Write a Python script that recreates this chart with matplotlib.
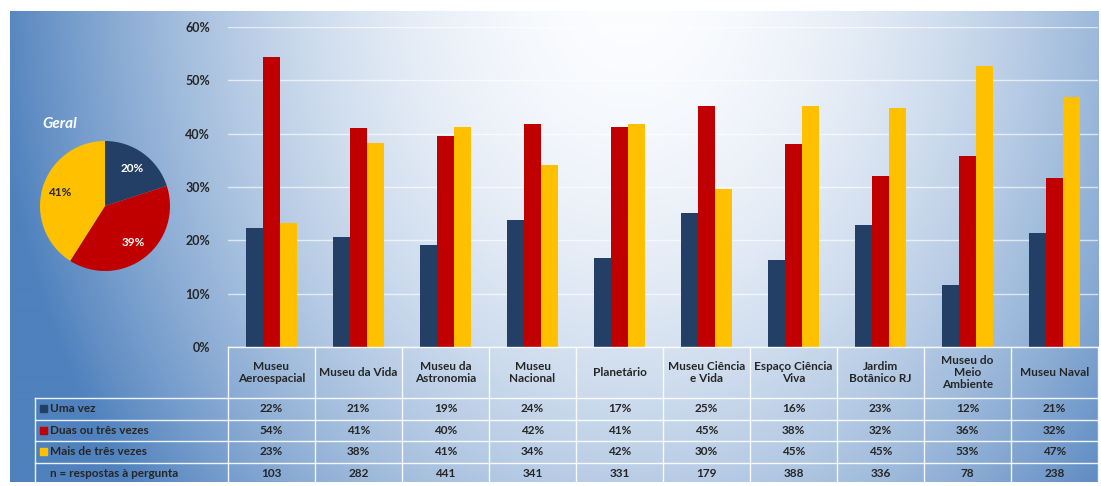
import numpy as np
import matplotlib
matplotlib.use("Agg")
import matplotlib.pyplot as plt
from matplotlib.patches import Rectangle

# --------------------------------------------------
#  Dados
# --------------------------------------------------
categorias = [
    "Museu\nAeroespacial", "Museu da Vida", "Museu da\nAstronomia", "Museu\nNacional",
    "Planetário", "Museu Ciência\ne Vida", "Espaço Ciência\nViva", "Jardim\nBotânico RJ",
    "Museu do\nMeio\nAmbiente", "Museu Naval",
]
uma_vez = [22.3, 20.6, 19.1, 23.8, 16.6, 25.1, 16.4, 22.9, 11.6, 21.4]
duas_tres = [54.4, 41.1, 39.6, 41.8, 41.3, 45.2, 38.1, 32.1, 35.8, 31.6]
mais_tres = [23.3, 38.3, 41.3, 34.1, 41.8, 29.6, 45.2, 44.8, 52.6, 46.9]
n_respostas = [103, 282, 441, 341, 331, 179, 388, 336, 78, 238]

series_nomes = ["Uma vez", "Duas ou três vezes", "Mais de três vezes"]
geral = [20, 39, 41]

CORES = ["#243f66", "#c00000", "#ffc000"]
TXT = "#262626"
FONTE = "Lato"

W, H = 1101, 486
fig = plt.figure(figsize=(W / 100, H / 100), dpi=100)
fig.patch.set_facecolor("white")

# --------------------------------------------------
#  Fundo em gradiente (painel azul)
# --------------------------------------------------
bg = fig.add_axes([0, 0, 1, 1], zorder=0)
bg.set_xlim(0, W)
bg.set_ylim(H, 0)
bg.axis("off")
yy, xx = np.mgrid[0:470, 0:1089]
xx = xx + 10
yy = yy + 12
t = np.sqrt(((xx - 630) / 640.0) ** 2 + ((yy + 20) / 820.0) ** 2)
t = np.clip(t, 0, 1) ** 1.9
c_in = np.array([252, 253, 255]) / 255.0
c_out = np.array([79, 129, 189]) / 255.0
img = c_in[None, None, :] * (1 - t[..., None]) + c_out[None, None, :] * t[..., None]
bg.imshow(img, extent=(10, 1099, 482, 12), aspect="auto", interpolation="bilinear")

# --------------------------------------------------
#  Gráfico de barras
# --------------------------------------------------
ax = fig.add_axes([228 / W, (H - 347) / H, 870 / W, 320 / H], zorder=2)
ax.patch.set_alpha(0)
x = np.arange(len(categorias))
bw = 0.195
for k, vals in enumerate([uma_vez, duas_tres, mais_tres]):
    ax.bar(x + (k - 1) * bw, vals, width=bw, color=CORES[k], zorder=3)
ax.set_xlim(-0.5, len(categorias) - 0.5)
ax.set_ylim(0, 60)
ax.set_yticks(range(0, 61, 10))
ax.set_yticklabels([f"{v}%" for v in range(0, 61, 10)], fontsize=9,
                   fontweight="bold", color=TXT, family=FONTE)
ax.yaxis.grid(True, color="white", linewidth=1.0, alpha=0.65, zorder=0)
ax.tick_params(axis="y", length=0, pad=13)
ax.set_xticks([])
for s in ax.spines.values():
    s.set_visible(False)

# --------------------------------------------------
#  Tabela de dados
# --------------------------------------------------
tb = fig.add_axes([0, 0, 1, 1], zorder=3)
tb.set_xlim(0, W)
tb.set_ylim(H, 0)
tb.axis("off")
x0, cw = 228, 87.0
rows_y = [398, 419.5, 441, 462.5, 484]
lc = dict(color="white", linewidth=1.0, alpha=0.9)
tb.plot([x0, 1098], [347, 347], **lc)
for ry in rows_y:
    tb.plot([35, 1098], [ry, ry], **lc)
tb.plot([35, 35], [398, 484], **lc)
for i in range(len(categorias) + 1):
    tb.plot([x0 + i * cw] * 2, [347, 484], **lc)

kw = dict(fontsize=8.5, fontweight="bold", color=TXT, family=FONTE, ha="center", va="center")
for i, cat in enumerate(categorias):
    cx = x0 + (i + 0.5) * cw
    tb.text(cx, 372.5, cat, linespacing=1.15, **kw)
    for r, vals in enumerate([uma_vez, duas_tres, mais_tres]):
        tb.text(cx, (rows_y[r] + rows_y[r + 1]) / 2, f"{round(vals[i])}%", **kw)
    tb.text(cx, (rows_y[3] + rows_y[4]) / 2, str(n_respostas[i]), **kw)

for r, nome in enumerate(series_nomes):
    cy = (rows_y[r] + rows_y[r + 1]) / 2
    tb.add_patch(Rectangle((40, cy - 3.5), 7, 7, color=CORES[r]))
    tb.text(50, cy, nome, fontsize=8.5, fontweight="bold", color=TXT, family=FONTE,
            ha="left", va="center")
tb.text(50, (rows_y[3] + rows_y[4]) / 2, "n = respostas à pergunta", fontsize=8.5,
        fontweight="bold", color=TXT, family=FONTE, ha="left", va="center")

# --------------------------------------------------
#  Pizza "Geral"
# --------------------------------------------------
pa = fig.add_axes([40 / W, (H - 271) / H, 130 / W, 130 / H], zorder=2)
wedges, texts, autotexts = pa.pie(
    geral, colors=CORES, startangle=90, counterclock=False,
    autopct=lambda p: f"{p:.0f}%", pctdistance=0.72,
    textprops=dict(fontsize=8.5, fontweight="bold", family=FONTE),
)
for at, c in zip(autotexts, ["white", "white", TXT]):
    at.set_color(c)
pa.set_xlim(-1, 1)
pa.set_ylim(-1, 1)
pa.set_aspect("equal")
tb.text(60, 124, "Geral", fontsize=11, fontweight="bold", style="italic",
        color="white", family=FONTE, ha="center", va="center")

fig.savefig("out.png", dpi=100)
